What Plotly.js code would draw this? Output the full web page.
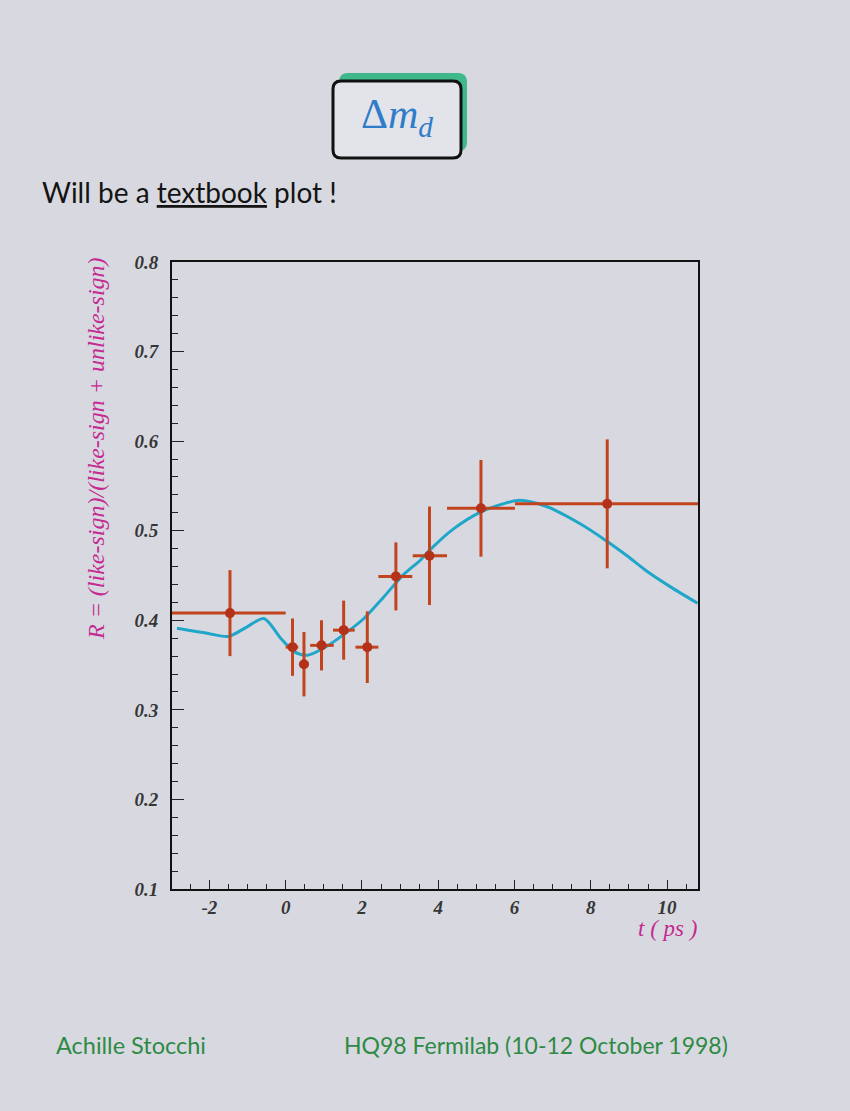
<!DOCTYPE html>
<html><head><meta charset="utf-8">
<script src="https://cdn.plot.ly/plotly-3.0.1.min.js"></script>
<style>html,body{margin:0;padding:0;background:#d8d9e0;}#plot{width:850px;height:1111px;}</style>
</head><body><div id="plot"></div>
<script>
// measured points: time (ps), ratio R, errors
const tCenter = [-1.46, 0.18, 0.48, 0.94, 1.52, 2.14, 2.89, 3.77, 5.12, 8.43];
const tLow    = [-3.0, 0.0, 0.35, 0.64, 1.24, 1.83, 2.43, 3.33, 4.23, 6.01];
const tHigh   = [0.0, 0.33, 0.60, 1.26, 1.81, 2.43, 3.32, 4.23, 6.01, 11.0];
const rValue  = [0.408, 0.370, 0.351, 0.372, 0.389, 0.370, 0.449, 0.472, 0.525, 0.530];
const rError  = [0.048, 0.032, 0.036, 0.028, 0.033, 0.040, 0.038, 0.055, 0.054, 0.072];

// fitted curve
const curveT = [-2.85, -2.0, -1.5, -1.0, -0.57, -0.13, 0.22, 0.57, 1.0, 1.52, 2.05, 2.57, 3.09, 3.53, 3.77, 4.4, 5.12, 5.7, 6.14, 6.84, 7.71, 8.43, 8.95, 9.46, 10.1, 10.8];
const curveR = [0.391, 0.385, 0.382, 0.393, 0.402, 0.380, 0.365, 0.361, 0.369, 0.384, 0.402, 0.426, 0.451, 0.467, 0.478, 0.502, 0.521, 0.530, 0.534, 0.527, 0.508, 0.488, 0.472, 0.455, 0.437, 0.419];

const xTickVals = [-2, 0, 2, 4, 6, 8, 10];
const yTickVals = [0.1, 0.2, 0.3, 0.4, 0.5, 0.6, 0.7, 0.8];

const errPlus = tHigh.map((h, i) => h - tCenter[i]);
const errMinus = tCenter.map((c, i) => c - tLow[i]);

const L = 172, R = 698, T = 262, B = 889, W = 850, H = 1111;
const px = x => (x - L) / (R - L);
const py = y => (B - y) / (B - T);

function rrect(x0, y0, x1, y1, r) {
  const X0 = px(x0), X1 = px(x1), Y0 = py(y0), Y1 = py(y1);
  const rx = r / (R - L), ry = r / (B - T);
  return `M${X0 + rx},${Y0} L${X1 - rx},${Y0} Q${X1},${Y0} ${X1},${Y0 - ry} L${X1},${Y1 + ry} Q${X1},${Y1} ${X1 - rx},${Y1} L${X0 + rx},${Y1} Q${X0},${Y1} ${X0},${Y1 + ry} L${X0},${Y0 - ry} Q${X0},${Y0} ${X0 + rx},${Y0} Z`;
}

const red = '#c2441e';
const traces = [
  {
    x: curveT, y: curveR, type: 'scatter', mode: 'lines',
    line: {color: '#1fa6c9', width: 3, shape: 'spline', smoothing: 0.8},
    hoverinfo: 'skip', cliponaxis: true
  },
  {
    x: tCenter, y: rValue, type: 'scatter', mode: 'markers',
    marker: {color: '#b5321a', size: 10},
    error_y: {type: 'data', array: rError, visible: true, color: red, thickness: 3, width: 0},
    error_x: {type: 'data', symmetric: false, array: errPlus, arrayminus: errMinus, visible: true, color: red, thickness: 3, width: 0},
    cliponaxis: true
  }
];

const tickFont = {family: 'Liberation Serif', size: 19, color: '#363636'};
const layout = {
  width: W, height: H,
  paper_bgcolor: '#d8d9e0', plot_bgcolor: '#d8d9e0',
  margin: {l: L, r: W - R, t: T, b: H - B},
  showlegend: false,
  xaxis: {
    range: [-2.98, 10.81], tickvals: xTickVals, ticktext: xTickVals.map(v => '<b><i>' + v + '</i></b>'),
    ticks: 'inside', ticklen: 9, tickwidth: 1, tickcolor: '#222',
    minor: {dtick: 0.5, ticks: 'inside', ticklen: 5, tickcolor: '#222', showgrid: false},
    showline: true, linecolor: '#111', linewidth: 2, mirror: true,
    showgrid: false, zeroline: false, tickfont: tickFont
  },
  yaxis: {
    range: [0.1, 0.8], tickvals: yTickVals, ticktext: yTickVals.map(v => '<b><i>' + v.toFixed(1) + '</i></b>'),
    ticks: 'inside', ticklen: 12, tickwidth: 1, tickcolor: '#222', ticklabelstandoff: 8,
    minor: {dtick: 0.02, ticks: 'inside', ticklen: 6, tickcolor: '#222', showgrid: false},
    showline: true, linecolor: '#111', linewidth: 2, mirror: true,
    showgrid: false, zeroline: false, tickfont: tickFont
  },
  shapes: [
    {type: 'path', xref: 'paper', yref: 'paper', path: rrect(339, 73, 467, 151, 9), fillcolor: '#3fb88c', line: {width: 0}},
    {type: 'path', xref: 'paper', yref: 'paper', path: rrect(333, 81, 461, 158, 8), fillcolor: '#e3e4e9', line: {color: '#111', width: 3}}
  ],
  annotations: [
    {xref: 'paper', yref: 'paper', x: px(397), y: py(117), text: 'Δ<i>m</i><sub><i>d</i></sub>', showarrow: false,
     font: {family: 'Liberation Serif', size: 42, color: '#2f7cc9'}, xanchor: 'center', yanchor: 'middle'},
    {xref: 'paper', yref: 'paper', x: px(40), y: py(192), text: 'Will be a <u>textbook</u> plot !', showarrow: false,
     font: {family: 'Lato', size: 28, color: '#141414'}, xanchor: 'left', yanchor: 'middle'},
    {xref: 'paper', yref: 'paper', x: px(96), y: py(449), text: '<i>R = (like-sign)/(like-sign + unlike-sign)</i>', showarrow: false,
     textangle: -90, font: {family: 'Liberation Serif', size: 24, color: '#c42a92'}, xanchor: 'center', yanchor: 'middle'},
    {xref: 'paper', yref: 'paper', x: px(699), y: py(928), text: '<i>t ( ps )</i>', showarrow: false,
     font: {family: 'Liberation Serif', size: 23, color: '#c42a92'}, xanchor: 'right', yanchor: 'middle'},
    {xref: 'paper', yref: 'paper', x: px(54), y: py(1045), text: 'Achille Stocchi', showarrow: false,
     font: {family: 'Lato', size: 23.5, color: '#2e8a45'}, xanchor: 'left', yanchor: 'middle'},
    {xref: 'paper', yref: 'paper', x: px(342), y: py(1045), text: 'HQ98 Fermilab (10-12 October 1998)', showarrow: false,
     font: {family: 'Lato', size: 23, color: '#2e8a45'}, xanchor: 'left', yanchor: 'middle'}
  ]
};
Plotly.newPlot('plot', traces, layout, {displayModeBar: false, staticPlot: true});
</script></body></html>
